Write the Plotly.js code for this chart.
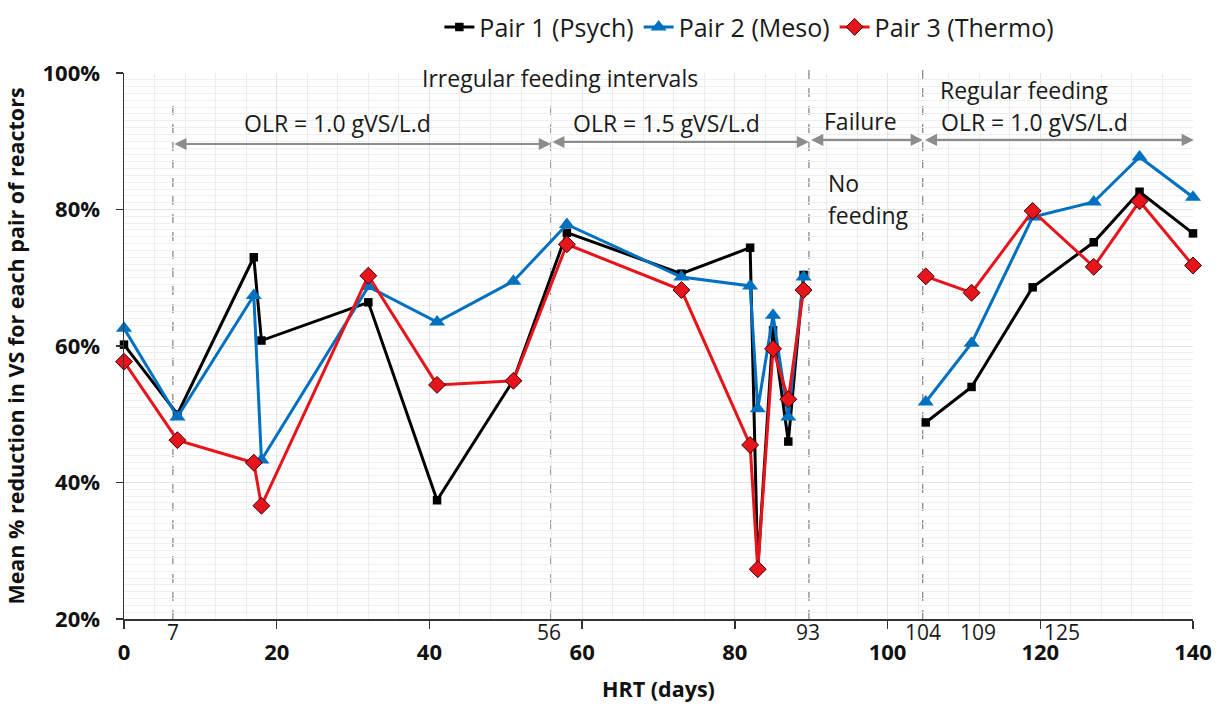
<!DOCTYPE html>
<html>
<head>
<meta charset="utf-8">
<script src="https://cdn.plot.ly/plotly-3.0.1.min.js"></script>
<style>html,body{margin:0;padding:0;background:#fff;}#chart{width:1216px;height:712px;}</style>
</head>
<body>
<div id="chart"></div>
<script>
// HRT (days) of each sampling; null marks the no-feeding gap
const hrtDays = [0, 7, 17, 18, 32, 41, 51, 58, 73, 82, 83, 85, 87, 89, 97, 105, 111, 119, 127, 133, 140];
const pair1Psych = [60.2, 50.0, 73.0, 60.8, 66.4, 37.4, 55.0, 76.6, 70.6, 74.4, 27.3, 62.3, 46.0, 70.4, null, 48.8, 54.0, 68.6, 75.2, 82.6, 76.5];
const pair2Meso = [62.6, 49.6, 67.4, 43.3, 68.7, 63.5, 69.5, 77.8, 70.1, 68.8, 50.8, 64.5, 49.6, 70.1, null, 51.8, 60.4, 78.9, 81.1, 87.7, 81.8];
const pair3Thermo = [57.7, 46.2, 42.9, 36.6, 70.3, 54.3, 54.9, 74.9, 68.2, 45.5, 27.3, 59.6, 52.2, 68.2, null, 70.2, 67.8, 79.8, 71.6, 81.2, 71.8];
const seriesNames = ['Pair 1 (Psych)', 'Pair 2 (Meso)', 'Pair 3 (Thermo)'];

// phase boundaries (dashed lines) and their labels
const boundaryX = [6.4, 55.9, 89.7, 104.6, 140.1];
const boundaryTop = [0.943, 0.945, 1.006, 1.006, 0.95];
const extraTickText = ['7', '56', '93', '104', '109', '125'];
const extraTickX = [6.4, 55.6, 89.6, 104.7, 111.8, 122.8];

// phase arrows [start, end, level]
const arrowStart = [6.4, 55.9, 89.8, 104.7];
const arrowEnd = [55.9, 89.7, 104.6, 140.1];
const arrowLevel = [89.6, 89.9, 90.2, 90.2];

// phase captions
const captionText = ['Irregular feeding intervals', 'OLR = 1.0 gVS/L.d', 'OLR = 1.5 gVS/L.d', 'Failure', 'Regular feeding', 'OLR = 1.0 gVS/L.d'];
const captionX = [57.1, 27.9, 71.1, 96.5, 117.9, 119.2];
const captionY = [99.3, 92.7, 92.7, 93.0, 97.5, 92.8];
const noteText = ['No', 'feeding'];
const noteX = [91.9, 91.9];
const noteY = [83.9, 79.2];

const FONT = 'Open Sans, Liberation Sans, sans-serif';

const traces = [
  {x: hrtDays, y: pair1Psych, name: seriesNames[0], mode: 'lines+markers', connectgaps: false, cliponaxis: false,
   line: {color: '#000000', width: 3}, marker: {symbol: 'square', size: 8.5, color: '#000000'}},
  {x: hrtDays, y: pair2Meso, name: seriesNames[1], mode: 'lines+markers', connectgaps: false, cliponaxis: false,
   line: {color: '#0070C0', width: 3}, marker: {symbol: 'triangle-up', size: 14, color: '#0070C0'}},
  {x: hrtDays, y: pair3Thermo, name: seriesNames[2], mode: 'lines+markers', connectgaps: false, cliponaxis: false,
   line: {color: '#E8141B', width: 3}, marker: {symbol: 'diamond', size: 13, color: '#E8141B', line: {color: '#3a0000', width: 1}}}
];

const shapes = boundaryX.map((bx, i) => ({
  type: 'line', xref: 'x', yref: 'paper', x0: bx, x1: bx, y0: 0, y1: boundaryTop[i],
  line: {color: '#8a8a8a', width: 1.3, dash: 'dash'}, layer: 'below'
}));

const annotations = [];
arrowStart.forEach((s, i) => {
  annotations.push({x: arrowEnd[i], y: arrowLevel[i], ax: s, ay: arrowLevel[i], xref: 'x', yref: 'y', axref: 'x', ayref: 'y',
    text: '', showarrow: true, arrowside: 'end+start', arrowhead: 2, arrowsize: 1.1, arrowwidth: 2.2, arrowcolor: '#8c8c8c', standoff: 0, startstandoff: 0});
});
captionText.forEach((t, i) => {
  annotations.push({x: captionX[i], y: captionY[i], xref: 'x', yref: 'y', text: t, showarrow: false,
    xanchor: 'center', yanchor: 'middle', font: {family: FONT, size: 23, color: '#1a1a1a'}});
});
noteText.forEach((t, i) => {
  annotations.push({x: noteX[i], y: noteY[i], xref: 'x', yref: 'y', text: t, showarrow: false,
    xanchor: 'left', yanchor: 'middle', font: {family: FONT, size: 23, color: '#1a1a1a'}});
});
extraTickText.forEach((t, i) => {
  annotations.push({x: extraTickX[i], y: -0.023, xref: 'x', yref: 'paper', text: t, showarrow: false,
    xanchor: 'center', yanchor: 'middle', font: {family: FONT, size: 21, color: '#1a1a1a'}});
});

const layout = {
  width: 1216, height: 712,
  margin: {l: 124, r: 23, t: 73, b: 93, autoexpand: false},
  paper_bgcolor: '#ffffff', plot_bgcolor: '#ffffff',
  font: {family: FONT, color: '#111'},
  showlegend: true,
  legend: {orientation: 'h', x: 0.585, xanchor: 'center', y: 1.084, yanchor: 'middle',
    font: {family: FONT, size: 25, color: '#1a1a1a'}, itemwidth: 30, bgcolor: 'rgba(0,0,0,0)'},
  xaxis: {
    range: [0, 140], tickmode: 'linear', tick0: 0, dtick: 20,
    ticks: 'outside', ticklen: 8, tickwidth: 1.3, tickcolor: '#333',
    showline: true, linecolor: '#333', linewidth: 1.5,
    showgrid: true, gridcolor: '#e4e4e4', gridwidth: 1, zeroline: false,
    minor: {dtick: 4, showgrid: true, gridcolor: '#ececec', ticks: ''},
    tickfont: {family: FONT, size: 22, color: '#111', weight: 'bold'},
    ticklabelstandoff: 5,
    title: {text: '<b>HRT (days)</b>', font: {family: FONT, size: 21.5, color: '#111'}, standoff: 17}
  },
  yaxis: {
    range: [20, 100], tickmode: 'linear', tick0: 20, dtick: 20, ticksuffix: '%',
    ticks: 'outside', ticklen: 7, tickwidth: 1.3, tickcolor: '#333',
    showline: true, linecolor: '#333', linewidth: 1.5,
    showgrid: true, gridcolor: '#e4e4e4', gridwidth: 1, zeroline: false,
    minor: {dtick: 1, showgrid: true, gridcolor: '#efefef', ticks: ''},
    tickfont: {family: FONT, size: 22, color: '#111', weight: 'bold'},
    ticklabelstandoff: 11,
    title: {text: '<b>Mean % reduction in VS for each pair of reactors</b>', font: {family: FONT, size: 21.5, color: '#111'}, standoff: 12}
  },
  shapes: shapes,
  annotations: annotations
};

Plotly.newPlot('chart', traces, layout, {staticPlot: true, displayModeBar: false});
</script>
</body>
</html>
